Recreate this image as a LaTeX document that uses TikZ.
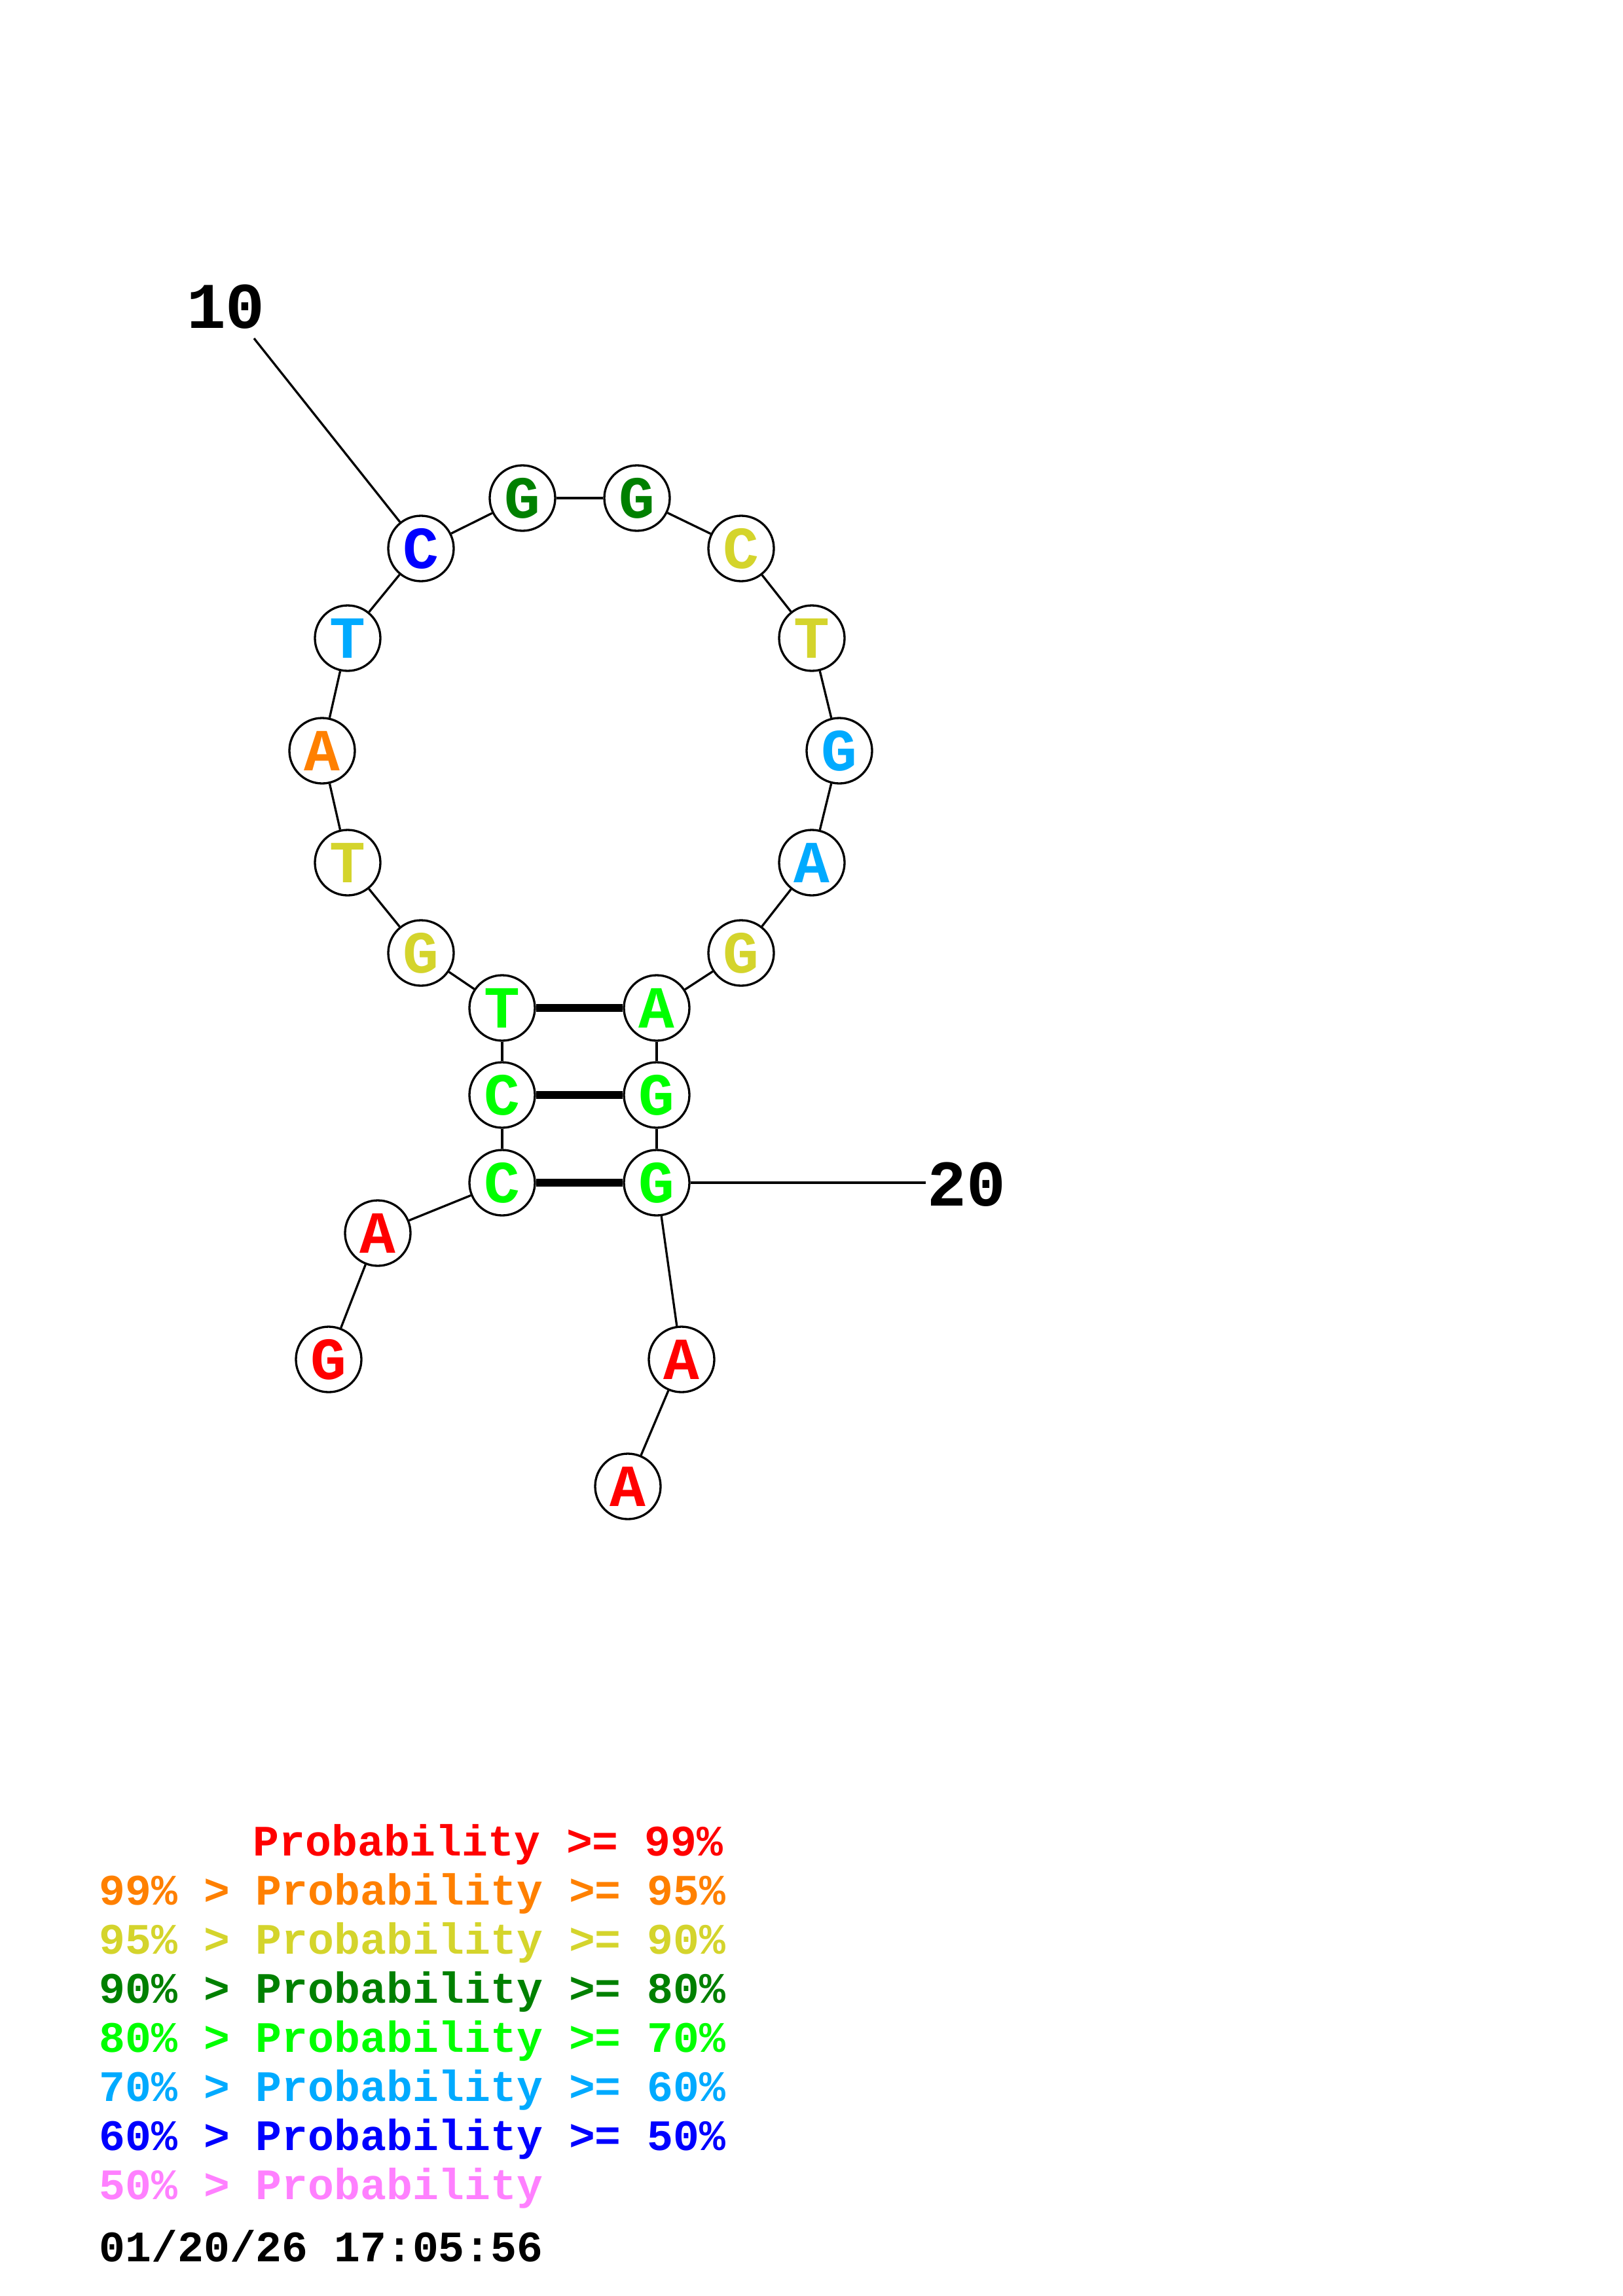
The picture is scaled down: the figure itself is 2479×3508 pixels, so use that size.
\documentclass[tikz,border=0pt]{standalone}
\usepackage{fontspec}
\setmonofont{Liberation Mono}
\definecolor{pa}{RGB}{255,0,0}
\definecolor{pb}{RGB}{255,128,0}
\definecolor{pc}{RGB}{212,212,44}
\definecolor{pd}{RGB}{0,128,0}
\definecolor{pe}{RGB}{0,255,0}
\definecolor{pf}{RGB}{0,170,255}
\definecolor{pg}{RGB}{0,0,255}
\definecolor{ph}{RGB}{255,128,255}
\begin{document}
\begin{tikzpicture}[x=0.2409pt,y=-0.2409pt,
    nt/.style={circle,draw,fill=white,line width=0.8pt,minimum size=24.09pt,inner sep=0pt,font=\ttfamily\bfseries\fontsize{22}{22}\selectfont},
    bb/.style={line width=0.8pt},
    bp/.style={line width=2.9pt},
    num/.style={inner sep=0pt,font=\ttfamily\bfseries\fontsize{24}{24}\selectfont},
    leg/.style={anchor=base west,inner sep=0pt,font=\ttfamily\bfseries\fontsize{16}{16}\selectfont},
]
\useasboundingbox (0,0) rectangle (2479,3508);

% 5' tail and stem (left)
\node[nt,text=pa] (n1) at (502,2077) {G};
\node[nt,text=pa] (n2) at (577,1884) {A};
\node[nt,text=pe] (n3) at (767,1807) {C};
\node[nt,text=pe] (n4) at (767,1673) {C};
\node[nt,text=pe] (n5) at (767,1540) {T};

% Hairpin loop
\node[nt,text=pc] (n6) at (643,1456) {G};
\node[nt,text=pc] (n7) at (531,1318) {T};
\node[nt,text=pb] (n8) at (492,1147) {A};
\node[nt,text=pf] (n9) at (531,975) {T};
\node[nt,text=pg] (n10) at (643,838) {C};
\node[nt,text=pd] (n11) at (798,761) {G};
\node[nt,text=pd] (n12) at (973,761) {G};
\node[nt,text=pc] (n13) at (1132,838) {C};
\node[nt,text=pc] (n14) at (1240,975) {T};
\node[nt,text=pf] (n15) at (1282,1147) {G};
\node[nt,text=pf] (n16) at (1240,1318) {A};
\node[nt,text=pc] (n17) at (1132,1456) {G};

% Stem (right) and 3' tail
\node[nt,text=pe] (n18) at (1003,1540) {A};
\node[nt,text=pe] (n19) at (1003,1673) {G};
\node[nt,text=pe] (n20) at (1003,1807) {G};
\node[nt,text=pa] (n21) at (1041,2077) {A};
\node[nt,text=pa] (n22) at (959,2271) {A};

% Numbering
\node[num] (lab10) at (345,469) {10};
\coordinate (e10) at (388,517);
\node[num] (lab20) at (1476,1810) {20};
\coordinate (e20) at (1414,1807);

% Backbone
\draw[bb] (n1) -- (n2);
\draw[bb] (n2) -- (n3);
\draw[bb] (n3) -- (n4);
\draw[bb] (n4) -- (n5);
\draw[bb] (n5) -- (n6);
\draw[bb] (n6) -- (n7);
\draw[bb] (n7) -- (n8);
\draw[bb] (n8) -- (n9);
\draw[bb] (n9) -- (n10);
\draw[bb] (n10) -- (n11);
\draw[bb] (n11) -- (n12);
\draw[bb] (n12) -- (n13);
\draw[bb] (n13) -- (n14);
\draw[bb] (n14) -- (n15);
\draw[bb] (n15) -- (n16);
\draw[bb] (n16) -- (n17);
\draw[bb] (n17) -- (n18);
\draw[bb] (n18) -- (n19);
\draw[bb] (n19) -- (n20);
\draw[bb] (n20) -- (n21);
\draw[bb] (n21) -- (n22);
\draw[bb] (n10) -- (e10);
\draw[bb] (n20) -- (e20);

% Base pairs
\draw[bp] (n5) -- (n18);
\draw[bp] (n4) -- (n19);
\draw[bp] (n3) -- (n20);

% Legend
\node[leg,text=pa] (lg1) at (386,2835) {Probability >= 99\%};
\node[leg,text=pb] (lg2) at (151,2910) {99\% > Probability >= 95\%};
\node[leg,text=pc] (lg3) at (151,2985) {95\% > Probability >= 90\%};
\node[leg,text=pd] (lg4) at (151,3060) {90\% > Probability >= 80\%};
\node[leg,text=pe] (lg5) at (151,3135) {80\% > Probability >= 70\%};
\node[leg,text=pf] (lg6) at (151,3210) {70\% > Probability >= 60\%};
\node[leg,text=pg] (lg7) at (151,3285) {60\% > Probability >= 50\%};
\node[leg,text=ph] (lg8) at (151,3360) {50\% > Probability};
\node[leg] (date) at (151,3455) {01/20/26 17:05:56};
\end{tikzpicture}
\end{document}
